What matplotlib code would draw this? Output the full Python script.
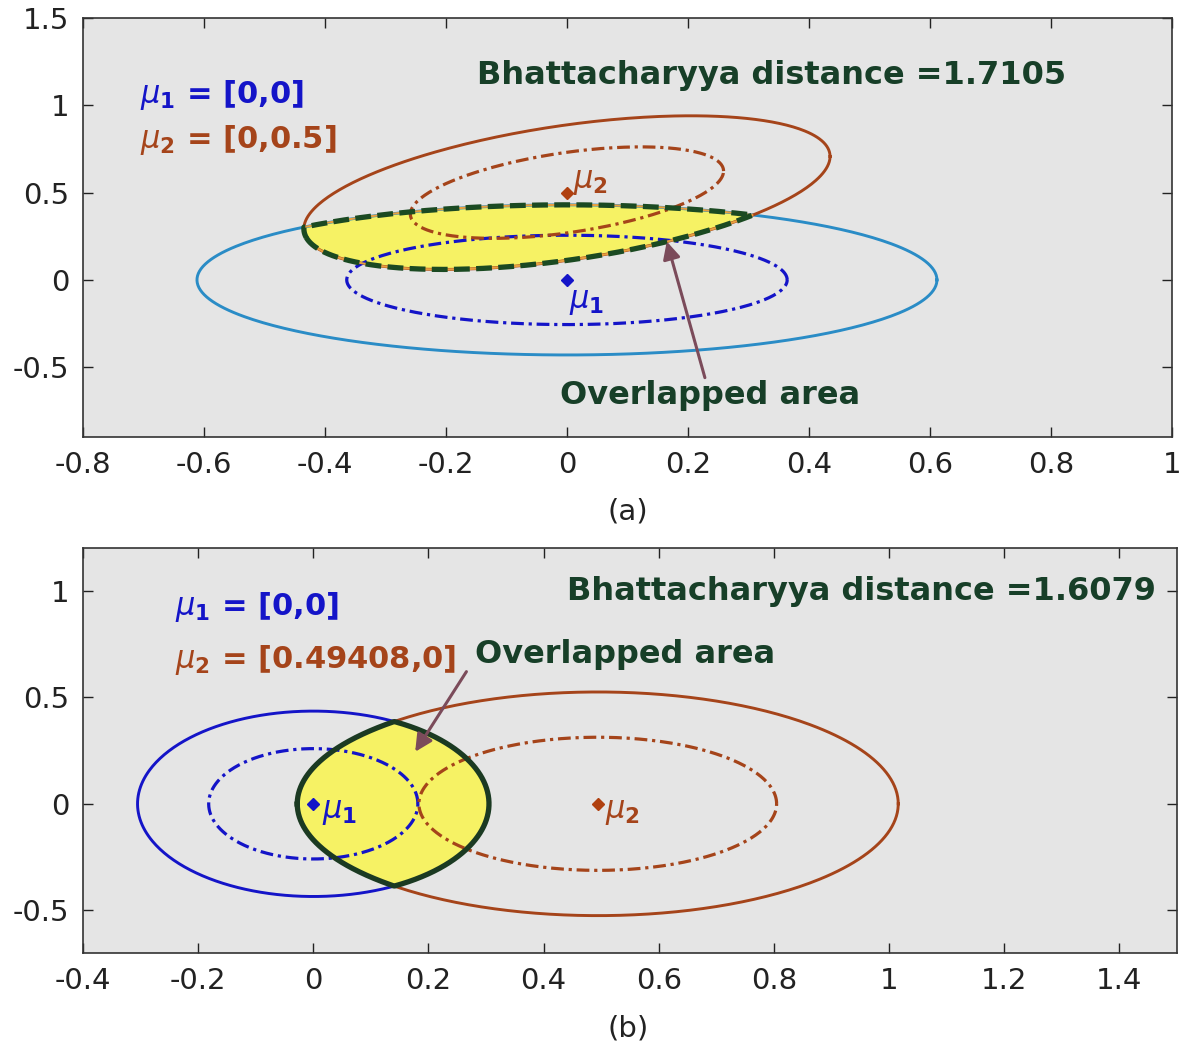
import numpy as np
import matplotlib
matplotlib.use("Agg")
import matplotlib.pyplot as plt

plt.rcParams["axes.unicode_minus"] = False
plt.rcParams["mathtext.fontset"] = "dejavusans"

# ---------------------------------------------------------------------------
# data: two Gaussians per panel (mean, 1-sigma covariance), outer contour scale
# ---------------------------------------------------------------------------
mu1_a = [0.0, 0.0]
cov1_a = [[0.1325, 0.0], [0.0, 0.0655]]
mu2_a = [0.0, 0.5]
cov2_a = [[0.0670, 0.0319], [0.0319, 0.0686]]
bd_a = "1.7105"

mu1_b = [0.0, 0.0]
cov1_b = [[0.0330, 0.0], [0.0, 0.0670]]
mu2_b = [0.49408, 0.0]
cov2_b = [[0.0965, 0.0], [0.0, 0.0975]]
bd_b = "1.6079"

outer_k = 1.68

xticks_a = [-0.8, -0.6, -0.4, -0.2, 0, 0.2, 0.4, 0.6, 0.8, 1]
yticks_a = [-0.5, 0, 0.5, 1, 1.5]
xticks_b = [-0.4, -0.2, 0, 0.2, 0.4, 0.6, 0.8, 1, 1.2, 1.4]
yticks_b = [-0.5, 0, 0.5, 1]

BG = "#e5e5e5"
BLUE = "#1414c8"
LBLUE = "#2a8cc6"
BROWN = "#a5441a"
GREEN = "#173f28"
ARROW = "#7b4b5a"
YELLOW = "#f6f264"


def ellipse_pts(mu, cov, k, n=400):
    t = np.linspace(0, 2 * np.pi, n)
    L = np.linalg.cholesky(np.array(cov))
    circ = np.vstack([np.cos(t), np.sin(t)]) * k
    pts = L @ circ
    return pts[0] + mu[0], pts[1] + mu[1]


def inside(x, y, mu, cov, k):
    d = np.vstack([x - mu[0], y - mu[1]])
    inv = np.linalg.inv(np.array(cov))
    m = np.einsum("ij,ik,kj->j", d, inv, d)
    return m <= k * k


def overlap_poly(mu1, cov1, mu2, cov2, k):
    x1, y1 = ellipse_pts(mu1, cov1, k, 1500)
    x2, y2 = ellipse_pts(mu2, cov2, k, 1500)
    m1 = inside(x1, y1, mu2, cov2, k)
    m2 = inside(x2, y2, mu1, cov1, k)
    xs = np.concatenate([x1[m1], x2[m2]])
    ys = np.concatenate([y1[m1], y2[m2]])
    cx, cy = xs.mean(), ys.mean()
    order = np.argsort(np.arctan2(ys - cy, xs - cx))
    xs, ys = xs[order], ys[order]
    return np.append(xs, xs[0]), np.append(ys, ys[0])


def style_axes(ax, xlim, ylim, xt, yt):
    ax.set_facecolor(BG)
    ax.set_xlim(xlim)
    ax.set_ylim(ylim)
    ax.set_xticks(xt)
    ax.set_yticks(yt)
    ax.set_xticklabels(["%g" % v for v in xt])
    ax.set_yticklabels(["%g" % v for v in yt])
    ax.tick_params(direction="in", length=7, width=1, labelsize=21,
                   top=True, right=True, colors="#222222", pad=10)
    for s in ax.spines.values():
        s.set_color("#333333")
        s.set_linewidth(1.2)


def draw_panel(ax, mu1, cov1, mu2, cov2, outer1_color, outline_dashed):
    # overlap region
    ox, oy = overlap_poly(mu1, cov1, mu2, cov2, outer_k)
    ax.fill(ox, oy, color=YELLOW, zorder=1)

    x, y = ellipse_pts(mu1, cov1, outer_k)
    ax.plot(x, y, color=outer1_color, lw=2.1, zorder=2)
    x, y = ellipse_pts(mu1, cov1, 1.0)
    ax.plot(x, y, color=BLUE, lw=2.3, ls=(0, (4, 1.5, 1, 1.5)), zorder=3)
    x, y = ellipse_pts(mu2, cov2, outer_k)
    ax.plot(x, y, color=BROWN, lw=2.1, zorder=2)
    x, y = ellipse_pts(mu2, cov2, 1.0)
    ax.plot(x, y, color=BROWN, lw=2.3, ls=(0, (4, 1.5, 1, 1.5)), zorder=3)

    if outline_dashed:
        ax.plot(ox, oy, color="#e8a040", lw=1.5, zorder=4)
        ax.plot(ox, oy, color="#1b4a22", lw=3.8, ls=(0, (3, 1.2)), zorder=5)
    else:
        ax.plot(ox, oy, color="#1b3a22", lw=3.8, zorder=5)

    ax.plot(mu1[0], mu1[1], marker="D", ms=6, color=BLUE, ls="none", zorder=6)
    ax.plot(mu2[0], mu2[1], marker="D", ms=6, color="#b0400f", ls="none", zorder=6)


def arrow(ax, tail, head):
    ax.annotate("", xy=head, xytext=tail,
                arrowprops=dict(arrowstyle="-|>", color=ARROW, lw=2.2,
                                mutation_scale=26, shrinkA=0, shrinkB=0),
                zorder=7)


fig = plt.figure(figsize=(11.85, 10.49), dpi=100)

tkw = dict(fontsize=23, fontweight="bold", va="center")
mkw = dict(fontsize=22, fontweight="bold", va="center")

# ---------------------------- panel (a) ------------------------------------
ax1 = fig.add_axes([0.0700, 0.5834, 0.919, 0.3994])
style_axes(ax1, (-0.8, 1), (-0.9, 1.5), xticks_a, yticks_a)
draw_panel(ax1, mu1_a, cov1_a, mu2_a, cov2_a, LBLUE, True)

ax1.text(-0.706, 1.06, r"$\mu_\mathbf{1}$ = [%g,%g]" % tuple(mu1_a), color=BLUE, **mkw)
ax1.text(-0.706, 0.80, r"$\mu_\mathbf{2}$ = [%g,%g]" % tuple(mu2_a), color=BROWN, **mkw)
ax1.text(-0.149, 1.17, "Bhattacharyya distance =" + bd_a, color=GREEN, **tkw)
ax1.text(0.004, -0.13, r"$\mu_\mathbf{1}$", color=BLUE, fontsize=22, va="center")
ax1.text(0.01, 0.56, r"$\mu_\mathbf{2}$", color=BROWN, fontsize=22, va="center")
ax1.text(0.236, -0.665, "Overlapped area", color=GREEN, ha="center", **tkw)
arrow(ax1, (0.228, -0.56), (0.165, 0.22))
fig.text(0.53, 0.512, "(a)", ha="center", va="center", fontsize=21, color="#222222")

# ---------------------------- panel (b) ------------------------------------
ax2 = fig.add_axes([0.0700, 0.0915, 0.9232, 0.3861])
style_axes(ax2, (-0.4, 1.5), (-0.7, 1.2), xticks_b, yticks_b)
draw_panel(ax2, mu1_b, cov1_b, mu2_b, cov2_b, BLUE, False)

ax2.text(-0.24, 0.925, r"$\mu_\mathbf{1}$ = [%g,%g]" % tuple(mu1_b), color=BLUE, **mkw)
ax2.text(-0.24, 0.676, r"$\mu_\mathbf{2}$ = [%g,%g]" % tuple(mu2_b), color=BROWN, **mkw)
ax2.text(0.441, 0.995, "Bhattacharyya distance =" + bd_b, color=GREEN, **tkw)
ax2.text(0.016, -0.04, r"$\mu_\mathbf{1}$", color=BLUE, fontsize=22, va="center")
ax2.text(0.507, -0.04, r"$\mu_\mathbf{2}$", color=BROWN, fontsize=22, va="center")
ax2.text(0.281, 0.70, "Overlapped area", color=GREEN, ha="left", **tkw)
arrow(ax2, (0.266, 0.62), (0.177, 0.244))
fig.text(0.53, 0.020, "(b)", ha="center", va="center", fontsize=21, color="#222222")

fig.savefig("out.png", dpi=100, facecolor="white")
